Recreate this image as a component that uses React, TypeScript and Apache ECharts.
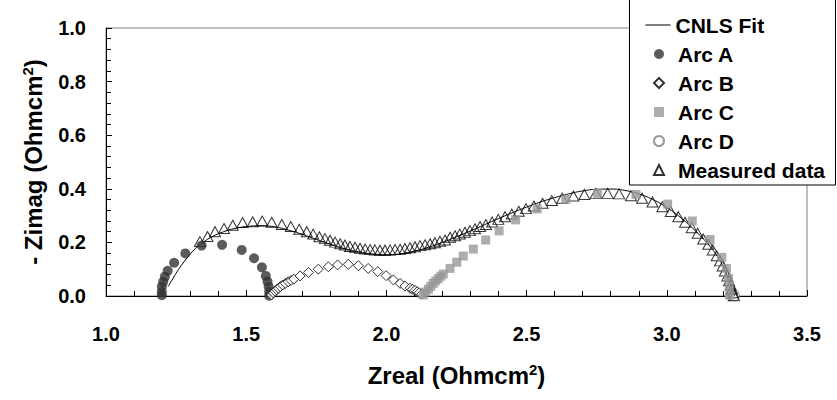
import React, { useEffect, useRef } from 'react';
import * as echarts from 'echarts';

// Axis ranges / ticks
const xMin = 1.0, xMax = 3.5, xStep = 0.5;
const yMin = 0.0, yMax = 1.0, yStep = 0.2;

const lineLegendNames = ['CNLS Fit'];
const markerLegendNames = ['Arc A', 'Arc B', 'Arc C', 'Arc D', 'Measured data'];

// CNLS fit curve [Zreal, -Zimag]
const cnlsFit: number[][] = [
  [1.222, 0.035], [1.25, 0.085], [1.28, 0.13], [1.31, 0.168], [1.34, 0.196], [1.38, 0.222],
  [1.42, 0.24], [1.46, 0.252], [1.5, 0.259], [1.55, 0.262], [1.6, 0.258], [1.65, 0.246],
  [1.7, 0.23], [1.75, 0.211], [1.8, 0.193], [1.85, 0.177], [1.9, 0.165], [1.95, 0.157],
  [2.0, 0.154], [2.05, 0.157], [2.1, 0.167], [2.15, 0.182], [2.2, 0.2], [2.25, 0.221],
  [2.3, 0.243], [2.35, 0.266], [2.4, 0.289], [2.45, 0.311], [2.5, 0.332], [2.55, 0.351],
  [2.6, 0.367], [2.65, 0.381], [2.7, 0.392], [2.75, 0.398], [2.8, 0.399], [2.85, 0.394],
  [2.9, 0.381], [2.95, 0.36], [3.0, 0.33], [3.05, 0.292], [3.1, 0.245], [3.15, 0.19],
  [3.18, 0.148], [3.2, 0.112], [3.22, 0.062], [3.235, 0.02], [3.242, 0.0],
];

// Arc A (filled dark circles)
const arcA: number[][] = [
  [1.199, 0.003], [1.199, 0.016], [1.199, 0.035], [1.204, 0.053], [1.21, 0.072], [1.22, 0.094],
  [1.243, 0.124], [1.283, 0.159], [1.341, 0.188], [1.414, 0.191], [1.484, 0.172], [1.528, 0.141],
  [1.556, 0.107], [1.57, 0.075], [1.576, 0.054], [1.58, 0.035], [1.582, 0.016], [1.582, 0.001],
];

// Arc B (open diamonds)
const arcB: number[][] = [
  [1.59, 0.004], [1.597, 0.012], [1.603, 0.018], [1.609, 0.024], [1.615, 0.029], [1.622, 0.035],
  [1.63, 0.041], [1.64, 0.047], [1.65, 0.053], [1.66, 0.058], [1.67, 0.063], [1.692, 0.075],
  [1.722, 0.088], [1.757, 0.1], [1.793, 0.109], [1.826, 0.116], [1.864, 0.118], [1.9, 0.113],
  [1.935, 0.103], [1.969, 0.091], [1.999, 0.076], [2.025, 0.06], [2.049, 0.047], [2.066, 0.037],
  [2.084, 0.029], [2.093, 0.025], [2.102, 0.021], [2.11, 0.016], [2.117, 0.012], [2.126, 0.007],
];

// Arc C (grey squares)
const arcC: number[][] = [
  [2.132, 0.004], [2.14, 0.015], [2.15, 0.025], [2.158, 0.036], [2.167, 0.047], [2.176, 0.056],
  [2.185, 0.065], [2.194, 0.074], [2.203, 0.082], [2.227, 0.103], [2.251, 0.126], [2.274, 0.149],
  [2.31, 0.175], [2.354, 0.209], [2.402, 0.243], [2.461, 0.284], [2.538, 0.325], [2.64, 0.361],
  [2.753, 0.383], [2.89, 0.379], [3.003, 0.343], [3.091, 0.28], [3.154, 0.211], [3.196, 0.144],
  [3.213, 0.103], [3.22, 0.066], [3.223, 0.035], [3.225, 0.004],
];

// Arc D (open grey circles)
const arcD: number[][] = [
  [3.226, 0.001], [3.23, 0.006], [3.234, 0.008], [3.238, 0.006], [3.241, 0.001],
];

// Measured data (open triangles)
const measured: number[][] = [
  [1.335, 0.203], [1.362, 0.222], [1.389, 0.24], [1.421, 0.252], [1.452, 0.264], [1.487, 0.274],
  [1.523, 0.277], [1.557, 0.28], [1.591, 0.275], [1.627, 0.267], [1.659, 0.259], [1.689, 0.249],
  [1.716, 0.24], [1.739, 0.231], [1.761, 0.221], [1.781, 0.214], [1.799, 0.208], [1.817, 0.201],
  [1.835, 0.195], [1.852, 0.19], [1.87, 0.185], [1.888, 0.182], [1.906, 0.178], [1.924, 0.175],
  [1.942, 0.173], [1.959, 0.172], [1.977, 0.171], [1.995, 0.171], [2.013, 0.172], [2.031, 0.173],
  [2.049, 0.174], [2.066, 0.177], [2.084, 0.18], [2.102, 0.184], [2.12, 0.188], [2.138, 0.191],
  [2.156, 0.195], [2.173, 0.199], [2.191, 0.204], [2.209, 0.209], [2.227, 0.219], [2.245, 0.225],
  [2.262, 0.231], [2.28, 0.238], [2.298, 0.244], [2.316, 0.251], [2.334, 0.259], [2.355, 0.267],
  [2.377, 0.276], [2.399, 0.286], [2.423, 0.296], [2.447, 0.306], [2.472, 0.316], [2.498, 0.326],
  [2.526, 0.336], [2.557, 0.346], [2.59, 0.356], [2.627, 0.365], [2.667, 0.373], [2.706, 0.379],
  [2.747, 0.383], [2.789, 0.383], [2.83, 0.381], [2.872, 0.374], [2.912, 0.365], [2.949, 0.351],
  [2.984, 0.333], [3.014, 0.315], [3.041, 0.296], [3.065, 0.275], [3.089, 0.255], [3.11, 0.234],
  [3.13, 0.213], [3.148, 0.193], [3.164, 0.172], [3.178, 0.15], [3.19, 0.131], [3.199, 0.112],
  [3.207, 0.093], [3.216, 0.075], [3.222, 0.057], [3.228, 0.041], [3.232, 0.026], [3.237, 0.012],
  [3.24, 0.001],
];

const FONT = '"Liberation Sans", Arial, sans-serif';
const legendText = { fontSize: 21, fontWeight: 'bold', color: '#000', fontFamily: FONT, lineHeight: 22 };

export default function App() {
  const ref = useRef<HTMLDivElement>(null);
  useEffect(() => {
    const chart = echarts.init(ref.current as HTMLDivElement, null, { renderer: 'svg' });
    chart.setOption({
      animation: false,
      backgroundColor: '#fff',
      textStyle: { fontFamily: FONT },
      grid: {
        left: 106, right: 30, top: 28, bottom: 104,
        show: true, borderColor: '#808080', borderWidth: 1, backgroundColor: 'transparent',
      },
      graphic: [
        {
          type: 'rect', z: 10, silent: true,
          shape: { x: 629.5, y: -1, width: 206, height: 186 },
          style: { fill: '#fff', stroke: '#000', lineWidth: 1 },
        },
      ],
      legend: [
        {
          data: lineLegendNames,
          orient: 'vertical',
          left: 645, top: 14,
          padding: 0,
          itemWidth: 25,
          itemHeight: 10,
          z: 12,
          lineStyle: { width: 1, color: '#000' },
          textStyle: legendText,
        },
        {
          data: markerLegendNames,
          orient: 'vertical',
          left: 653, top: 43,
          padding: 0,
          itemGap: 7,
          itemWidth: 10,
          itemHeight: 10,
          z: 12,
          textStyle: { ...legendText, padding: [0, 0, 0, 9] },
        },
      ],
      xAxis: {
        type: 'value', min: xMin, max: xMax, interval: xStep,
        name: '{a|Zreal (Ohmcm}{s|2}{a|)}',
        nameLocation: 'middle', nameGap: 66,
        nameTextStyle: {
          rich: {
            a: { fontSize: 24, fontWeight: 'bold', color: '#000', fontFamily: FONT, lineHeight: 26 },
            s: { fontSize: 15, fontWeight: 'bold', color: '#000', fontFamily: FONT, verticalAlign: 'top', lineHeight: 15 },
          },
        },
        axisLine: { onZero: false, lineStyle: { color: '#000', width: 1 } },
        axisTick: { inside: true, length: 6, lineStyle: { color: '#000' } },
        minorTick: { show: true, splitNumber: 5, length: 5, lineStyle: { color: '#000' } },
        splitLine: { show: false },
        axisLabel: {
          margin: 28, fontSize: 20, fontWeight: 'bold', color: '#000', fontFamily: FONT,
          formatter: (v: number) => v.toFixed(1),
        },
      },
      yAxis: {
        type: 'value', min: yMin, max: yMax, interval: yStep,
        name: '{a|- Zimag (Ohmcm}{s|2}{a|)}',
        nameLocation: 'middle', nameGap: 60,
        nameTextStyle: {
          rich: {
            a: { fontSize: 24, fontWeight: 'bold', color: '#000', fontFamily: FONT, lineHeight: 26 },
            s: { fontSize: 15, fontWeight: 'bold', color: '#000', fontFamily: FONT, verticalAlign: 'top', lineHeight: 15 },
          },
        },
        axisLine: { show: true, onZero: false, lineStyle: { color: '#000', width: 1 } },
        axisTick: { show: true, inside: true, length: 6, lineStyle: { color: '#000' } },
        minorTick: { show: true, splitNumber: 5, length: 5, lineStyle: { color: '#000' } },
        splitLine: { show: false },
        axisLabel: {
          margin: 20, fontSize: 20, fontWeight: 'bold', color: '#000', fontFamily: FONT,
          formatter: (v: number) => v.toFixed(1),
        },
      },
      series: [
        {
          name: 'CNLS Fit', type: 'line', data: cnlsFit, smooth: true, symbol: 'none',
          lineStyle: { color: '#000', width: 1 },
          itemStyle: { color: 'rgba(0,0,0,0)', borderColor: 'rgba(0,0,0,0)', borderWidth: 0 }, z: 2,
        },
        {
          name: 'Measured data', type: 'scatter', data: measured, symbol: 'triangle',
          symbolSize: [11, 10],
          itemStyle: { color: 'rgba(255,255,255,0)', borderColor: '#000', borderWidth: 1 }, z: 3,
        },
        {
          name: 'Arc A', type: 'scatter', data: arcA, symbol: 'circle', symbolSize: 10,
          itemStyle: { color: '#333333' }, z: 4,
        },
        {
          name: 'Arc B', type: 'scatter', data: arcB, symbol: 'diamond', symbolSize: 10,
          itemStyle: { color: '#fff', borderColor: '#000', borderWidth: 1 }, z: 4,
        },
        {
          name: 'Arc C', type: 'scatter', data: arcC, symbol: 'rect', symbolSize: 9,
          itemStyle: { color: '#999999' }, z: 4,
        },
        {
          name: 'Arc D', type: 'scatter', data: arcD, symbol: 'circle', symbolSize: 10,
          itemStyle: { color: '#fff', borderColor: '#808080', borderWidth: 1 }, z: 1,
        },
      ],
    });
    return () => chart.dispose();
  }, []);
  return (
    <div
      ref={ref}
      style={{ position: 'fixed', left: 0, top: 0, width: 837, height: 400, background: '#fff' }}
    />
  );
}
